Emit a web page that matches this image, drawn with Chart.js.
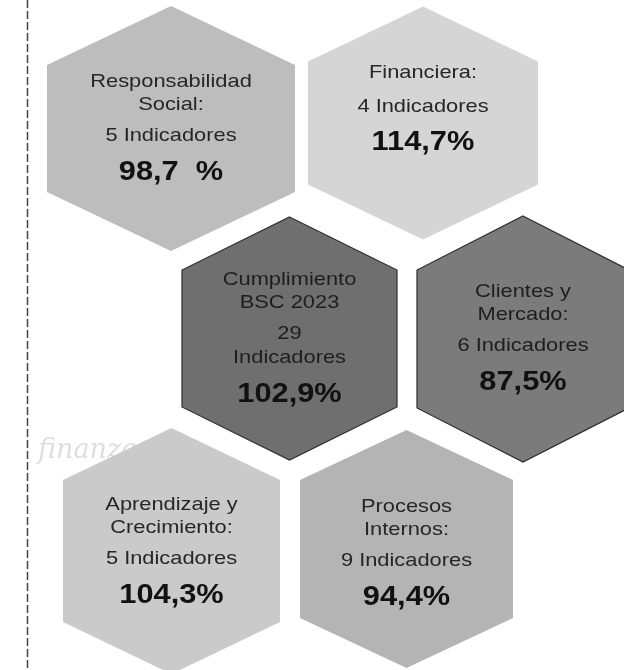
<!DOCTYPE html>
<html>
<head>
<meta charset="utf-8">
<script src="https://cdn.jsdelivr.net/npm/chart.js@4/dist/chart.umd.min.js"></script>
<style>
  html, body { margin: 0; padding: 0; background: #ffffff; }
  #wrap { width: 624px; height: 670px; position: relative; }
</style>
</head>
<body>
<div id="wrap"><canvas id="c" width="624" height="670"></canvas></div>
<script>
// ---------------- DATA ----------------
const categories = [
  "Responsabilidad Social:",
  "Financiera:",
  "Cumplimiento BSC 2023",
  "Clientes y Mercado:",
  "Aprendizaje y Crecimiento:",
  "Procesos Internos:"
];
const categoryLines = [
  ["Responsabilidad", "Social:"],
  ["Financiera:"],
  ["Cumplimiento", "BSC 2023"],
  ["Clientes y", "Mercado:"],
  ["Aprendizaje y", "Crecimiento:"],
  ["Procesos", "Internos:"]
];
const indicatorCounts = [5, 4, 29, 6, 5, 9];
const percentValues = [98.7, 114.7, 102.9, 87.5, 104.3, 94.4];
const percentLabels = ["98,7  %", "114,7%", "102,9%", "87,5%", "104,3%", "94,4%"];

// ---------------- LAYOUT (chart units, not data) ----------------
const hexCenterX = [171, 423, 289.5, 523, 171.5, 406.5];
const hexCenterY = [128.5, 123, 338.5, 339, 551, 549];
const hexWidth   = [248, 230, 215, 212, 217, 213];
const hexHeight  = [245, 233, 243, 246, 246, 238];
const hexShoulder= [59, 55, 53, 54, 52, 50];
const textStart  = [-41.5, -45, -53.5, -42, -41, -37];
const hexFill    = ["#bdbdbd", "#d5d5d5", "#6f6f6f", "#7b7b7b", "#cacaca", "#b4b4b4"];
const hexStroke  = [null, null, "#2e2e2e", "#2e2e2e", null, null];

function indicatorLines(i) {
  const n = indicatorCounts[i];
  return n >= 20 ? [String(n), "Indicadores"] : [n + " Indicadores"];
}

const hexPlugin = {
  id: 'hexPlugin',
  beforeDatasetsDraw(chart) {
    const ctx = chart.ctx;
    const xs = chart.scales.x, ys = chart.scales.y;
    // faint watermark
    ctx.save();
    ctx.fillStyle = "#dedede";
    ctx.font = "italic 27px 'DejaVu Serif'";
    ctx.textAlign = "left";
    ctx.textBaseline = "alphabetic";
    ctx.fillText("finanzas", xs.getPixelForValue(38), ys.getPixelForValue(458));
    ctx.restore();

    // dashed vertical rule on the left
    ctx.save();
    ctx.strokeStyle = "#444";
    ctx.lineWidth = 1.5;
    ctx.setLineDash([8, 3]);
    ctx.beginPath();
    ctx.moveTo(xs.getPixelForValue(27.5), ys.getPixelForValue(0));
    ctx.lineTo(xs.getPixelForValue(27.5), ys.getPixelForValue(670));
    ctx.stroke();
    ctx.restore();

    const meta = chart.getDatasetMeta(0);
    meta.data.forEach((pt, i) => {
      const cx = pt.x, cy = pt.y;
      const hw = (xs.getPixelForValue(hexCenterX[i] + hexWidth[i] / 2) - xs.getPixelForValue(hexCenterX[i] - hexWidth[i] / 2)) / 2;
      const hh = Math.abs(ys.getPixelForValue(hexCenterY[i] + hexHeight[i] / 2) - ys.getPixelForValue(hexCenterY[i] - hexHeight[i] / 2)) / 2;
      const sh = Math.abs(ys.getPixelForValue(hexShoulder[i]) - ys.getPixelForValue(0));
      ctx.save();
      ctx.beginPath();
      ctx.moveTo(cx, cy - hh);
      ctx.lineTo(cx + hw, cy - hh + sh);
      ctx.lineTo(cx + hw, cy + hh - sh);
      ctx.lineTo(cx, cy + hh);
      ctx.lineTo(cx - hw, cy + hh - sh);
      ctx.lineTo(cx - hw, cy - hh + sh);
      ctx.closePath();
      ctx.fillStyle = hexFill[i];
      ctx.fill();
      if (hexStroke[i]) {
        ctx.strokeStyle = hexStroke[i];
        ctx.lineWidth = 1.2;
        ctx.stroke();
      }
      ctx.restore();
    });
  },
  afterDatasetsDraw(chart) {
    const ctx = chart.ctx;
    const meta = chart.getDatasetMeta(0);
    const drawStretched = (txt, x, y, font, sx, color) => {
      ctx.save();
      ctx.translate(x, y);
      ctx.scale(sx, 1);
      ctx.font = font;
      ctx.fillStyle = color;
      ctx.textAlign = "center";
      ctx.textBaseline = "alphabetic";
      ctx.fillText(txt, 0, 0);
      ctx.restore();
    };
    meta.data.forEach((pt, i) => {
      const cx = pt.x;
      let y = pt.y + textStart[i];
      const dark = i === 2 || i === 3;
      const regColor = dark ? "#1e1e1e" : "#262626";
      const regFont = "19px 'Liberation Sans', Arial, sans-serif";
      const boldFont = "bold 28px 'Liberation Sans', Arial, sans-serif";
      const title = categoryLines[i];
      title.forEach((ln, k) => {
        if (k > 0) y += 22.5;
        drawStretched(ln, cx, y, regFont, 1.15, regColor);
      });
      const ind = indicatorLines(i);
      ind.forEach((ln, k) => {
        y += (k === 0 ? (title.length === 1 ? 34 : 31) : 24);
        drawStretched(ln, cx, y, regFont, 1.15, regColor);
      });
      y += (title.length === 1 ? 38 : 39.5);
      drawStretched(percentLabels[i], cx, y, boldFont, 1.1, "#111111");
    });
  }
};

const points = categories.map((c, i) => ({ x: hexCenterX[i], y: hexCenterY[i], v: percentValues[i] }));

new Chart(document.getElementById('c'), {
  type: 'scatter',
  data: {
    datasets: [{
      label: 'Cumplimiento BSC',
      data: points,
      pointRadius: 0,
      pointHoverRadius: 0
    }]
  },
  options: {
    responsive: false,
    animation: false,
    devicePixelRatio: 1,
    layout: { padding: 0 },
    scales: {
      x: { type: 'linear', min: 0, max: 624, display: false },
      y: { type: 'linear', min: 0, max: 670, reverse: true, display: false }
    },
    plugins: {
      legend: { display: false },
      tooltip: { enabled: false }
    }
  },
  plugins: [hexPlugin]
});
</script>
</body>
</html>
